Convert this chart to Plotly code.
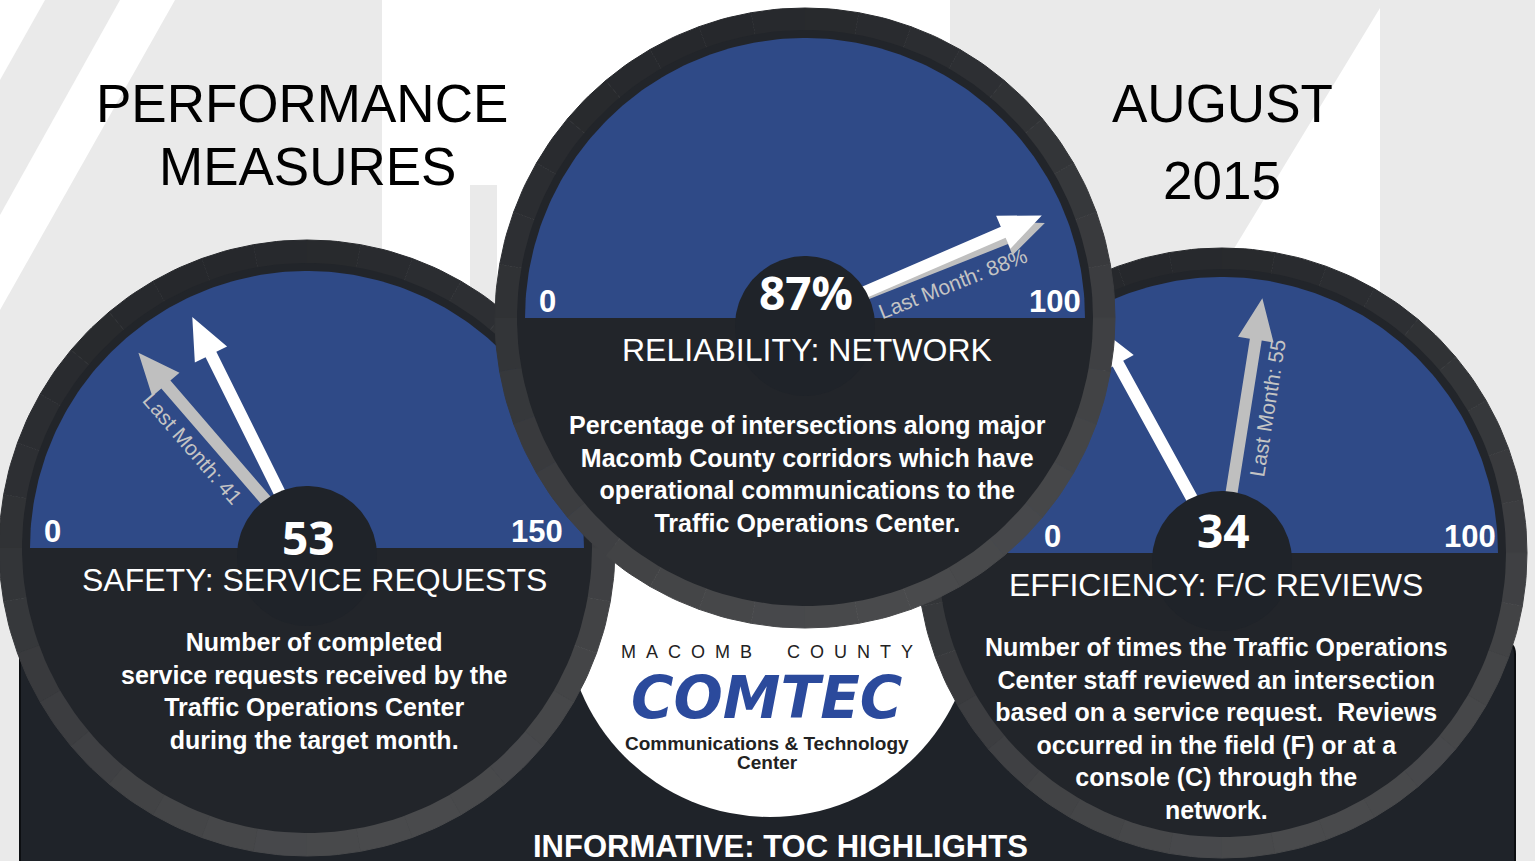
import numpy as np
import plotly.graph_objects as go

# ---- data ----
gauge_titles = ["SAFETY: SERVICE REQUESTS", "RELIABILITY: NETWORK", "EFFICIENCY: F/C REVIEWS"]
current_values = [53, 87, 34]
last_month_values = [41, 88, 55]
scale_min = [0, 0, 0]
scale_max = [150, 100, 100]
value_suffix = ["", "%", ""]
descriptions = [
    "Number of completed<br>service requests received by the<br>Traffic Operations Center<br>during the target month.",
    "Percentage of intersections along major<br>Macomb County corridors which have<br>operational communications to the<br>Traffic Operations Center.",
    "Number of times the Traffic Operations<br>Center staff reviewed an intersection<br>based on a service request.  Reviews<br>occurred in the field (F) or at a<br>console (C) through the<br>network.",
]
header_left = ["PERFORMANCE", "MEASURES"]
header_right = ["AUGUST", "2015"]
footer_title = "INFORMATIVE: TOC HIGHLIGHTS"

# ---- layout geometry (pixels, y pointing down) ----
W, H = 1535, 861
centers = [(307, 548), (805, 318), (1222, 553)]
outer_r = [308, 310, 305]
face_r = [277, 280, 276]
min_label_dx = [-255, -258, -170]
max_label_dx = [230, 250, 248]
value_dy = [-11, -26, -23]
text_dx = [7, 2, -6]
desc_dy = [78, 91, 78]
draw_order = [0, 2, 1]

BLUE = "#2f4a87"
DARK = "#1f2329"
GRAY_WM = "#eaeaea"
FONT = "Liberation Sans, Arial, sans-serif"

fig = go.Figure()


def poly(xs, ys, color, lw=0):
    fig.add_trace(go.Scatter(
        x=list(xs), y=list(ys), mode="lines", fill="toself", fillcolor=color,
        line=dict(color=color, width=lw), hoverinfo="skip", showlegend=False))


def circle_pts(cx, cy, r, a0=0, a1=360, n=180):
    a = np.radians(np.linspace(a0, a1, n))
    return cx + r * np.cos(a), cy - r * np.sin(a)


def ring_color(phi):
    t = (1 - np.cos(np.radians(phi - 110))) / 2
    dark = np.array([38, 40, 44])
    light = np.array([73, 74, 76])
    c = dark + (light - dark) * t
    return "rgb(%d,%d,%d)" % tuple(c.round())


def gauge_body(i):
    cx, cy = centers[i]
    ro, rf = outer_r[i], face_r[i]
    step = 10
    for a0 in range(0, 360, step):
        xo, yo = circle_pts(cx, cy, ro, a0, a0 + step, 8)
        xi, yi = circle_pts(cx, cy, rf + 6, a0 + step, a0, 8)
        poly(np.r_[xo, xi], np.r_[yo, yi], ring_color(a0 + step / 2), lw=1)
    x, y = circle_pts(cx, cy, rf + 8)
    poly(x, y, "#22252a")
    x, y = circle_pts(cx, cy, rf, 0, 180)
    poly(x, y, BLUE)


def needle(cx, cy, theta, length, color):
    t = np.radians(theta)
    u = np.array([np.cos(t), -np.sin(t)])
    n = np.array([np.sin(t), np.cos(t)])
    c = np.array([cx, cy])
    r0, hl, sw, hw = 30, 42, 6, 18
    pts = [c + u * r0 + n * sw, c + u * (length - hl) + n * sw, c + u * (length - hl) + n * hw,
           c + u * length,
           c + u * (length - hl) - n * hw, c + u * (length - hl) - n * sw, c + u * r0 - n * sw]
    pts = np.array(pts)
    poly(pts[:, 0], pts[:, 1], color)


def value_angle(i, v):
    return 180.0 * (1 - (v - scale_min[i]) / (scale_max[i] - scale_min[i]))


# background watermark, panel and logo disc
shapes = []
wm_polys = [
    [(45, 0), (120, 0), (0, 215), (0, 80)],
    [(175, 0), (382, 0), (382, 861), (0, 861), (0, 310)],
    [(470, 185), (497, 185), (497, 861), (470, 861)],
    [(950, 0), (1380, 0), (1380, 8), (1215, 280), (950, 280)],
    [(1380, 0), (1535, 0), (1535, 861), (1380, 861)],
]
for p in wm_polys:
    path = "M " + " L ".join("%g,%g" % q for q in p) + " Z"
    shapes.append(dict(type="path", path=path, fillcolor=GRAY_WM, line=dict(width=0),
                       xref="x", yref="y", layer="below"))
shapes.append(dict(type="path",
                   path="M 32,642 L 1503,642 Q 1515,642 1515,654 L 1515,880 L 20,880 L 20,654 Q 20,642 32,642 Z",
                   fillcolor=DARK, line=dict(color="#0c0e11", width=2), xref="x", yref="y", layer="below"))
shapes.append(dict(type="circle", x0=770 - 205, x1=770 + 205, y0=612 - 205, y1=612 + 205,
                   fillcolor="white", line=dict(width=0), xref="x", yref="y", layer="below"))

annotations = []


def add_text(x, y, text, size, color="white", bold=False, family=FONT, angle=0, xanchor="center",
             yanchor="middle", italic=False):
    if bold:
        text = "<b>" + text + "</b>"
    if italic:
        text = "<i>" + text + "</i>"
    annotations.append(dict(x=x, y=y, xref="x", yref="y", text=text, showarrow=False,
                            font=dict(size=size, color=color, family=family), textangle=angle,
                            xanchor=xanchor, yanchor=yanchor, align="center"))


for i in draw_order:
    cx, cy = centers[i]
    gauge_body(i)
    a_last = value_angle(i, last_month_values[i])
    a_now = value_angle(i, current_values[i])
    needle(cx, cy, a_last, 258, "#bfbfbf")
    needle(cx, cy, a_now, 258, "white")
    x, y = circle_pts(cx, cy + 8, 70)
    poly(x, y, DARK)

    # last month label along the grey needle
    t = np.radians(a_last)
    u = np.array([np.cos(t), -np.sin(t)])
    n = np.array([np.sin(t), np.cos(t)])
    side = n if a_last < 90 else -n
    pos = np.array([cx, cy]) + u * 150 + side * 22
    ang = -a_last if a_last < 90 else 180 - a_last
    add_text(pos[0], pos[1], "Last Month: %g%s" % (last_month_values[i], value_suffix[i]), 21,
             color="#c4c4c4", angle=ang)

    add_text(cx + min_label_dx[i], cy - 17, str(scale_min[i]), 31, bold=True)
    add_text(cx + max_label_dx[i], cy - 17, str(scale_max[i]), 31, bold=True)
    add_text(cx + 1, cy + value_dy[i], "%g%s" % (current_values[i], value_suffix[i]), 46, bold=True,
             family="Open Sans, Liberation Sans, sans-serif")
    add_text(cx + text_dx[i], cy + 32, gauge_titles[i], 32)
    add_text(cx + text_dx[i], cy + desc_dy[i], descriptions[i], 25, bold=True, yanchor="top")

# header texts
add_text(302, 103, header_left[0], 53, color="black")
add_text(307, 166, header_left[1], 53, color="black")
add_text(1222, 103, header_right[0], 53, color="black")
add_text(1222, 180, header_right[1], 53, color="black")

# logo
sp = "&nbsp;" * 2
add_text(767, 652, sp.join("MACOMB") + "&nbsp;" * 7 + sp.join("COUNTY"), 18, color="#222222")
add_text(766, 698, "COMTEC", 58, color="#2b4a9c", bold=True, italic=True,
         family="DejaVu Sans, Liberation Sans, sans-serif")
add_text(767, 743, "Communications &amp; Technology", 19, color="#222222", bold=True)
add_text(767, 762, "Center", 19, color="#222222", bold=True)

add_text(780, 846, footer_title, 31, bold=True)

fig.update_layout(
    width=W, height=H, margin=dict(l=0, r=0, t=0, b=0),
    paper_bgcolor="white", plot_bgcolor="white",
    xaxis=dict(range=[0, W], visible=False, fixedrange=True),
    yaxis=dict(range=[H, 0], visible=False, fixedrange=True),
    shapes=shapes, annotations=annotations, showlegend=False,
)

fig.write_html("out.html", config={"displayModeBar": False},
               post_script="document.body.style.margin='0';document.body.style.overflow='hidden';")
